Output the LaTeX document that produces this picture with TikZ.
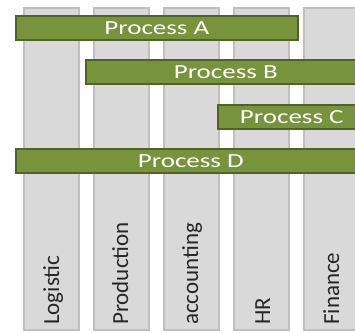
\documentclass[tikz,border=0pt]{standalone}
\usepackage{fontspec}
\setmainfont{Carlito}
\newfontfamily\barfont[FakeStretch=1.35]{Carlito}
\usepackage{tikz}
\usetikzlibrary{positioning}

\definecolor{procgreen}{HTML}{77933C}
\definecolor{procdark}{HTML}{4F6228}

\begin{document}
\begin{tikzpicture}[
      x=1pt, y=-1pt,
      node distance=15pt,
      dept/.style={draw=gray!50, line width=1.5pt, fill=gray!30, minimum width=55pt, minimum height=322pt, inner sep=0pt, outer sep=0pt},
      deptlabel/.style={rotate=90, anchor=base west, inner sep=0pt, text=black!85, font=\fontsize{23}{23}\selectfont},
      proc/.style={draw=procdark, line width=1.5pt, fill=procgreen, minimum height=24pt, anchor=north west, inner sep=0pt, text=white, font=\barfont\fontsize{20}{20}\selectfont},
    ]
    \useasboundingbox (0,0) rectangle (355,332);
    \clip (0,0) rectangle (355,332);

    % departments
    \node[dept, anchor=north west] (logcol) at (24,8) {};
    \node[dept, right=of logcol] (prodcol) {};
    \node[dept, right=of prodcol] (acccol) {};
    \node[dept, right=of acccol] (hrcol) {};
    \node[dept, right=of hrcol] (fincol) {};

    \node[deptlabel] (loglbl) at ([xshift=35pt, yshift=5pt]logcol.south west) {Logistic};
    \node[deptlabel] (prodlbl) at ([xshift=34pt, yshift=5pt]prodcol.south west) {Production};
    \node[deptlabel] (acclbl) at ([xshift=34pt, yshift=5pt]acccol.south west) {accounting};
    \node[deptlabel] (hrlbl) at ([xshift=36pt, yshift=5pt]hrcol.south west) {HR};
    \node[deptlabel] (finlbl) at ([xshift=35pt, yshift=5pt]fincol.south west) {Finance};

    % processes
    \node[proc, minimum width=282pt] (procA) at (15,15) {Process A};
    \node[proc, minimum width=280pt] (procB) at (85,59) {Process B};
    \node[proc, minimum width=148pt] (procC) at (217,104) {Process C};
    \node[proc, minimum width=350pt] (procD) at (15,148) {Process D};
  \end{tikzpicture}
\end{document}
